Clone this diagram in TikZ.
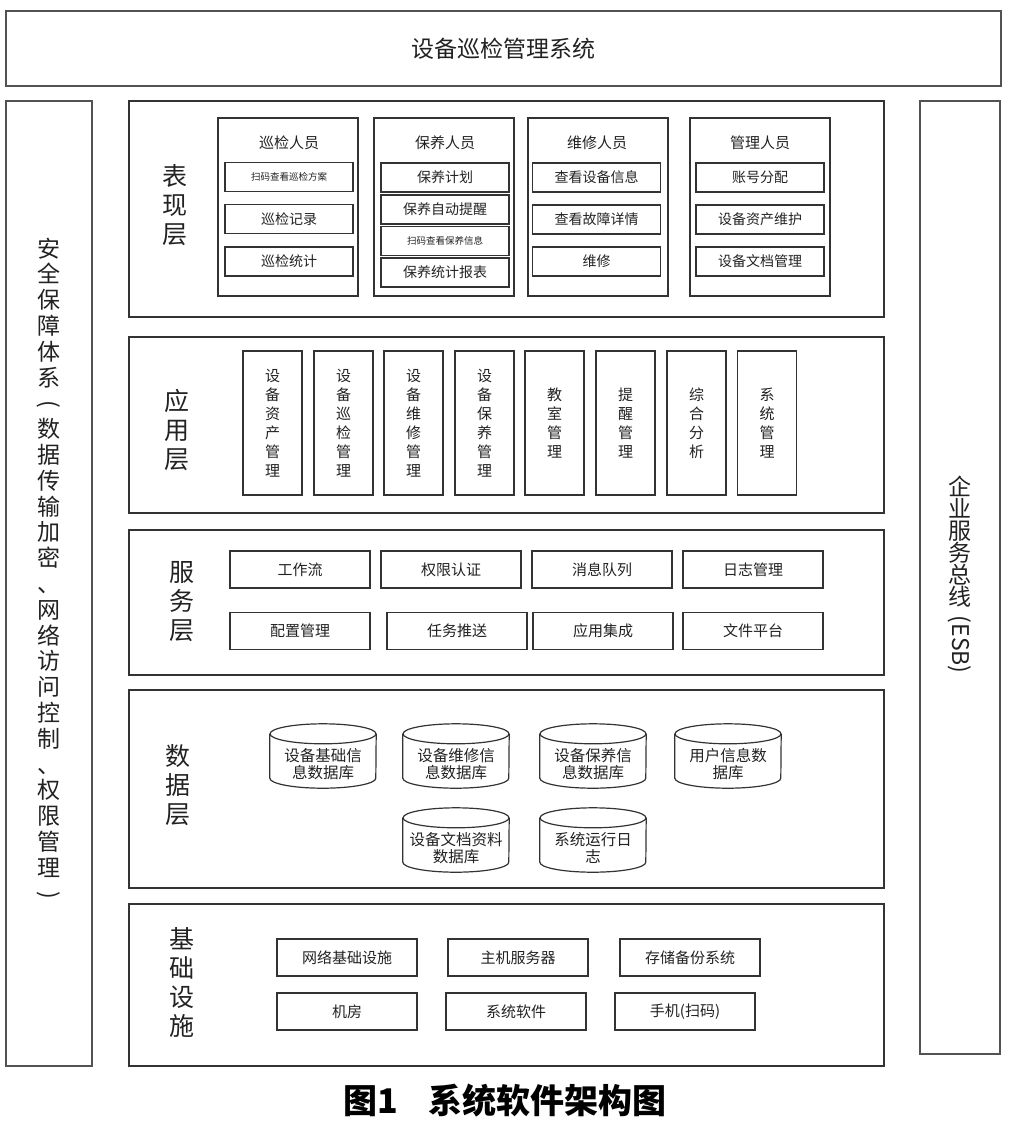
\documentclass[tikz,border=0pt]{standalone}
\usepackage{fontspec}
\usepackage{graphicx}
\setmainfont{Noto Sans CJK SC}
\usetikzlibrary{calc}
\definecolor{ln}{HTML}{333333}
\definecolor{tx}{HTML}{222222}
\newcommand\drawcyl[1]{%
  \draw[cylline] ($(#1.north west)+(0pt,-10pt)$) -- ($(#1.south west)+(0pt,10pt)$)
     arc[start angle=180,end angle=360,x radius=53pt,y radius=10pt]
     -- ($(#1.north east)+(0pt,-10pt)$);
  \draw[cylline] ($(#1.north)+(0pt,-10pt)$) ellipse[x radius=53pt,y radius=10pt];}
\newcommand\vparen[1]{\rotatebox[origin=c]{-90}{#1}}
\tikzset{
  outer/.style={draw=ln!85, line width=1.1pt, inner sep=0pt, text=tx},
  layer/.style={draw=ln, line width=1.3pt, inner sep=0pt, minimum width=755pt},
  grp/.style={draw=ln, line width=1.3pt, inner sep=0pt, minimum width=140pt, minimum height=178pt},
  item/.style={draw=ln, line width=1.5pt, inner sep=0pt, minimum width=128pt, minimum height=29pt, text=tx, font=\fontsize{14}{16}\selectfont},
  grptitle/.style={text=tx, inner sep=0pt, font=\fontsize{15}{17}\selectfont},
  appbox/.style={draw=ln, line width=1.5pt, inner sep=0pt, minimum width=59pt, minimum height=144pt, text=tx, align=center, font=\fontsize{15}{19}\selectfont},
  svc/.style={draw=ln, line width=1.4pt, inner sep=0pt, minimum width=140pt, minimum height=37pt, text=tx, font=\fontsize{15}{17}\selectfont},
  db/.style={inner sep=0pt, minimum width=106pt, minimum height=64pt},
  dbtext/.style={inner sep=0pt, text width=106pt, align=center, text=tx, font=\fontsize{15.5}{17}\selectfont},
  cylline/.style={draw=ln, line width=1.2pt},
  lab/.style={text=tx, inner sep=0pt, align=center, font=\fontsize{25}{29}\selectfont}
}
\begin{document}
\begin{tikzpicture}[x=1pt,y=-1pt]
\useasboundingbox[fill=white] (0,0) rectangle (1012,1130);

% top title
\node[outer, minimum width=995pt, minimum height=75pt, font=\fontsize{23}{25}\selectfont] (top) at (503.5,48.5) {设备巡检管理系统};

% side boxes
\node[outer, minimum width=86pt, minimum height=965pt] (left) at (49,583.5) {};
\node[text=tx, inner sep=0pt, align=center, font=\fontsize{23}{25.8}\selectfont] (lefttext) at (49,570)
 {安\\全\\保\\障\\体\\系\\\vparen{(}\\数\\据\\传\\输\\加\\密\\、\\网\\络\\访\\问\\控\\制\\、\\权\\限\\管\\理\\\vparen{)}};
\node[outer, minimum width=80pt, minimum height=953pt] (right) at (960,577.5) {};
\node[text=tx, inner sep=0pt, align=center, font=\fontsize{23}{22}\selectfont] (righttext) at (960,575)
 {企\\业\\服\\务\\总\\线\\[-12pt]\rotatebox{-90}{(ESB)}};

% layers
\node[layer, minimum height=216pt] (L1) at (506.5,209) {};
\node[layer, minimum height=176pt] (L2) at (506.5,425) {};
\node[layer, minimum height=145pt] (L3) at (506.5,602.5) {};
\node[layer, minimum height=198pt] (L4) at (506.5,789) {};
\node[layer, minimum height=162pt] (L5) at (506.5,985) {};

\node[lab] (l1) at (175,205) {表\\现\\层};
\node[lab] (l2) at (177,430) {应\\用\\层};
\node[lab] (l3) at (182,602) {服\\务\\层};
\node[lab] (l4) at (178,785) {数\\据\\层};
\node[lab] (l5) at (182,982) {基\\础\\设\\施};

% presentation layer
\node[grp] (g1) at (288,207) {};
\node[grp] (g2) at (444,207) {};
\node[grp] (g3) at (598,207) {};
\node[grp] (g4) at (760,207) {};
\node[grptitle] (g1t) at (289,143) {巡检人员};
\node[grptitle] (g2t) at (445,143) {保养人员};
\node[grptitle] (g3t) at (597,143) {维修人员};
\node[grptitle] (g4t) at (760,143) {管理人员};

\node[item, font=\fontsize{9.5}{11}\selectfont] (a1) at (289,177) {扫码查看巡检方案};
\node[item] (a2) at (289,219) {巡检记录};
\node[item] (a3) at (289,261.5) {巡检统计};

\node[item] (b1) at (445,177.5) {保养计划};
\node[item] (b2) at (445,209.5) {保养自动提醒};
\node[item, font=\fontsize{9.5}{11}\selectfont] (b3) at (445,241) {扫码查看保养信息};
\node[item] (b4) at (445,272.5) {保养统计报表};

\node[item] (c1) at (596.5,177.5) {查看设备信息};
\node[item] (c2) at (596.5,219.5) {查看故障详情};
\node[item] (c3) at (596.5,261.5) {维修};

\node[item] (d1) at (760,177.5) {账号分配};
\node[item] (d2) at (760,219.5) {设备资产维护};
\node[item] (d3) at (760,261.5) {设备文档管理};

% application layer
\node[appbox] (p1) at (272.5,423) {设\\备\\资\\产\\管\\理};
\node[appbox] (p2) at (343.5,423) {设\\备\\巡\\检\\管\\理};
\node[appbox] (p3) at (413.5,423) {设\\备\\维\\修\\管\\理};
\node[appbox] (p4) at (484.5,423) {设\\备\\保\\养\\管\\理};
\node[appbox] (p5) at (554.5,423) {教\\室\\管\\理};
\node[appbox] (p6) at (625.5,423) {提\\醒\\管\\理};
\node[appbox] (p7) at (696.5,423) {综\\合\\分\\析};
\node[appbox] (p8) at (767,423) {系\\统\\管\\理};

% service layer
\node[svc] (s1) at (300,569.5) {工作流};
\node[svc] (s2) at (451,569.5) {权限认证};
\node[svc] (s3) at (602,569.5) {消息队列};
\node[svc] (s4) at (753,569.5) {日志管理};
\node[svc] (s5) at (300,631) {配置管理};
\node[svc] (s6) at (457,631) {任务推送};
\node[svc] (s7) at (603,631) {应用集成};
\node[svc] (s8) at (753,631) {文件平台};

% data layer
\node[db] (db1) at (323,756) {};
\node[db] (db2) at (456,756) {};
\node[db] (db3) at (593,756) {};
\node[db] (db4) at (728,756) {};
\node[db] (db5) at (456,840) {};
\node[db] (db6) at (593,840) {};
\drawcyl{db1}\drawcyl{db2}\drawcyl{db3}\drawcyl{db4}\drawcyl{db5}\drawcyl{db6}
\node[dbtext] (db1t) at (323,764) {设备基础信\\息数据库};
\node[dbtext] (db2t) at (456,764) {设备维修信\\息数据库};
\node[dbtext] (db3t) at (593,764) {设备保养信\\息数据库};
\node[dbtext] (db4t) at (728,764) {用户信息数\\据库};
\node[dbtext] (db5t) at (456,848) {设备文档资料\\数据库};
\node[dbtext] (db6t) at (593,848) {系统运行日\\志};

% infrastructure
\node[svc] (i1) at (347,957.5) {网络基础设施};
\node[svc] (i2) at (518,957.5) {主机服务器};
\node[svc] (i3) at (690,957.5) {存储备份系统};
\node[svc] (i4) at (347,1011.5) {机房};
\node[svc] (i5) at (516,1011.5) {系统软件};
\node[svc] (i6) at (685,1011.5) {手机(扫码)};

% caption
\node[text=black, inner sep=0pt, font=\fontsize{34}{36}\selectfont\bfseries] (cap) at (505,1101) {图1\hspace{0.9em}系统软件架构图};
\end{tikzpicture}
\end{document}
